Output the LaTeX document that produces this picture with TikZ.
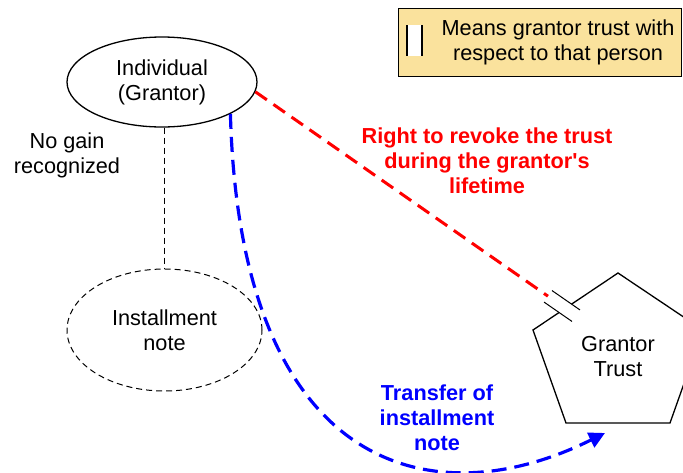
\documentclass[tikz,border=0pt]{standalone}
\usepackage{fontspec}
\setmainfont{Liberation Sans}
\newfontfamily\arialplain{Liberation Sans}
\usetikzlibrary{shapes.geometric,arrows.meta}
\definecolor{legendfill}{RGB}{250,226,157}
\begin{document}
\begin{tikzpicture}[x=1pt,y=-1pt,
  every node/.style={font=\arialplain\fontsize{21.7}{25}\selectfont, align=center, inner sep=0pt},
  solidell/.style={ellipse, draw, line width=1.3pt},
  dashell/.style={ellipse, draw, line width=1pt, dash pattern=on 6pt off 4pt},
  revoke/.style={red, line width=3pt, dash pattern=on 14pt off 8pt},
  transfer/.style={blue, line width=3.2pt, dash pattern=on 15pt off 8pt, -{Triangle[length=16pt,width=16pt]}},
  gainlink/.style={line width=1pt, dash pattern=on 6pt off 4pt},
  redlbl/.style={text=red, font=\arialplain\fontsize{21.7}{25}\selectfont\bfseries},
  bluelbl/.style={text=blue, font=\arialplain\fontsize{21.7}{25}\selectfont\bfseries},
  legendbox/.style={draw, line width=1pt, fill=legendfill, minimum width=283pt, minimum height=68pt, anchor=north west},
  outline/.style={line width=1.3pt}
]
\useasboundingbox (0,0) rectangle (683,472);
\clip (0,0) rectangle (683,472);

% legend
\node[legendbox] (legend) at (398,8) {};
\fill[white] (407,25) rectangle (422,56);
\draw[line width=1.2pt] (407,25) -- (407,56) (422,25) -- (422,56);
\node (legtext) at (558,42.5) {Means grantor trust with\\respect to that person};

% nodes
\node[solidell, minimum width=190pt, minimum height=90pt] (ind) at (162,82) {Individual\\(Grantor)};
\node[dashell, minimum width=195pt, minimum height=122pt] (inst) at (164.5,330) {Installment\\note};
\node (gain) at (67,155) {No gain\\recognized};

% pentagon (grantor trust)
\draw[outline] (618,273) -- (703,330) -- (670,423) -- (566,423) -- (533,330) -- cycle;
\node (trust) at (618,357) {Grantor\\Trust};

% connectors
\draw[gainlink] (inst.north |- ind.south) -- (inst.north);

\coordinate (bar) at (562,306);
\draw[revoke] (ind.-6) -- (bar);
\begin{scope}[shift={(bar)}, rotate=-34.7]
  \fill[white] (-17,-7) rectangle (17,7);
  \draw[line width=1pt] (-17,-7) -- (17,-7) (-17,7) -- (17,7);
\end{scope}

\coordinate (tip) at (605,433);
\draw[transfer] (ind.-25) .. controls (240,470) and (430,520) .. (tip);

% labels
\node[redlbl] (revlbl) at (487,161) {Right to revoke the trust\\during the grantor's\\lifetime};
\node[bluelbl] (translbl) at (437,418) {Transfer of\\installment\\note};
\end{tikzpicture}
\end{document}
